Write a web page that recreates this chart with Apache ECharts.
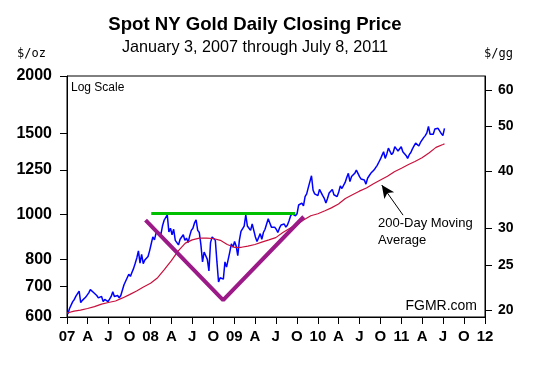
<!DOCTYPE html>
<html><head><meta charset="utf-8">
<script src="https://cdn.jsdelivr.net/npm/echarts@6/dist/echarts.min.js"></script>
<style>html,body{margin:0;padding:0;background:#fff}#c{width:544px;height:372px}</style>
</head><body><div id="c"></div>
<script>
// Weekly (Friday) closing prices, $/oz, starting Friday 2007-01-05
const firstFriday = [2007, 0, 5];
const goldPrices = [
  // 2007
  609, 626, 631, 648,
  655, 666, 664, 683,
  645, 652, 655, 662, 663,
  677, 688, 685, 678,
  684, 668, 660, 655,
  665, 648, 655, 655, 648,
  656, 665, 681, 665,
  670, 668, 660, 668, 672,
  705, 712, 730, 743,
  735, 750, 765, 785,
  806, 835, 785, 820, 783,
  798, 800, 812, 836,
  // 2008
  865, 895, 882, 912,
  905, 915, 905, 945, 972,
  975, 1000, 918, 935,
  905, 930, 880, 875,
  860, 885, 880, 905, 880,
  890, 870, 900, 925,
  935, 960, 975, 925,
  915, 860, 790, 830, 830,
  800, 755, 870, 895,
  900, 880, 790, 715, 730,
  735, 725, 790, 770,
  765, 830, 865, 850,
  // 2009
  875, 855, 815, 880, 920,
  915, 945, 1000, 945,
  935, 925, 955, 925,
  895, 875, 870, 910,
  885, 915, 930, 955, 980,
  960, 940, 935, 940,
  930, 915, 935, 950, 955,
  955, 940, 950, 970,
  995, 1005, 1015, 995,
  1005, 1050, 1055, 1060, 1045,
  1095, 1110, 1145, 1180,
  1215, 1130, 1110, 1105,
  // 2010
  1100, 1135, 1140, 1100, 1085,
  1060, 1085, 1115, 1120,
  1135, 1105, 1110, 1095,
  1120, 1155, 1140, 1145, 1175,
  1205, 1230, 1180, 1210,
  1215, 1230, 1250, 1255,
  1210, 1195, 1205, 1190, 1165,
  1200, 1215, 1230, 1235,
  1250, 1250, 1280, 1300,
  1320, 1345, 1370, 1325, 1355,
  1395, 1400, 1350, 1365,
  1405, 1390, 1375, 1385, 1405,
  // 2011
  1370, 1360, 1345, 1325,
  1350, 1365, 1390, 1410,
  1430, 1420, 1410, 1435,
  1430, 1470, 1485, 1505, 1555,
  1495, 1500, 1495, 1535,
  1540, 1540, 1535, 1500,
  1485, 1540
];
// 200-day moving average, read monthly (1st of each month) plus final day
const maDates = [];
for (let y = 2007; y <= 2011; y++) for (let m = 1; m <= 12; m++) {
  if (y === 2011 && m > 7) break;
  maDates.push(y + '-' + String(m).padStart(2, '0') + '-01');
}
maDates.push('2011-07-08');
const maValues = [
  612, 618, 621, 626, 632, 640, 645, 650, 660, 671, 683, 697,
  710, 730, 760, 795, 835, 868, 882, 890, 890, 888, 880, 862,
  850, 850, 855, 862, 872, 882, 892, 915, 935, 953, 975, 995,
  1005, 1020, 1035, 1055, 1085, 1105, 1125, 1143, 1168, 1190, 1212, 1240,
  1262, 1285, 1305, 1330, 1362, 1400, 1420, 1425
];
// Annotation lines (data space)
const resistanceLine = [['2008-01-04', 1006], ['2009-09-24', 1006]];
const vPattern = [['2007-12-10', 974], ['2008-11-13', 653], ['2009-10-31', 990]];
const arrowFrom = ['2011-01-08', 998];
const arrowTo = ['2010-10-07', 1160];

const leftTicks = [600, 700, 800, 1000, 1250, 1500, 2000];
const rightTicks = [20, 25, 30, 40, 50, 60];
const gramsPerOz = 31.1035;
const xTickLabels = ['07','A','J','O','08','A','J','O','09','A','J','O','10','A','J','O','11','A','J','O','12'];
const xTickValues = xTickLabels.map((_, i) => new Date(2007, 3 * i, 1).getTime());

const ts = s => { const p = s.split('-').map(Number); return new Date(p[0], p[1] - 1, p[2]).getTime(); };
const pt = a => [ts(a[0]), a[1]];
const goldDates = goldPrices.map((_, i) => new Date(firstFriday[0], firstFriday[1], firstFriday[2] + 7 * i).getTime());

const FONT = 'Arial, "Liberation Sans", sans-serif';
const MONO = '"DejaVu Sans Mono", "Liberation Mono", monospace';
const chart = echarts.init(document.getElementById('c'), null, {renderer: 'canvas'});
chart.setOption({
  animation: false,
  backgroundColor: '#fff',
  grid: {left: 67, right: 59, top: 76, bottom: 55, show: true, borderColor: '#000', borderWidth: 1, backgroundColor: 'transparent'},
  xAxis: {
    type: 'value', min: xTickValues[0], max: xTickValues[xTickValues.length - 1],
    axisLine: {show: true, onZero: false, lineStyle: {color: '#000', width: 1}},
    axisTick: {show: true, length: 7, customValues: xTickValues, lineStyle: {color: '#000'}},
    axisLabel: {
      customValues: xTickValues, margin: 12, fontSize: 15, fontWeight: 'bold', color: '#000', fontFamily: FONT,
      formatter: v => {
        const d = new Date(v);
        const idx = (d.getFullYear() - 2007) * 4 + Math.floor(d.getMonth() / 3);
        return xTickLabels[idx] || '';
      }
    },
    splitLine: {show: false}
  },
  yAxis: [{
    type: 'log', logBase: 10, min: 600, max: 2000, position: 'left',
    axisLine: {show: true, lineStyle: {color: '#000'}},
    axisTick: {show: true, length: 7, customValues: leftTicks, lineStyle: {color: '#000'}},
    axisLabel: {customValues: leftTicks, margin: 15, fontSize: 16, fontWeight: 'bold', color: '#000', fontFamily: FONT,
      formatter: v => String(Math.round(v))},
    splitLine: {show: false}
  }, {
    type: 'log', logBase: 10, min: 600 / gramsPerOz, max: 2000 / gramsPerOz, position: 'right',
    axisLine: {show: true, lineStyle: {color: '#000'}},
    axisTick: {show: true, length: 7, customValues: rightTicks, lineStyle: {color: '#000'}},
    axisLabel: {customValues: rightTicks, margin: 13, fontSize: 14, fontWeight: 'bold', color: '#000', fontFamily: FONT,
      formatter: v => String(Math.round(v))},
    splitLine: {show: false}
  }],
  series: [{
    type: 'line', name: 'Gold', showSymbol: false, symbol: 'none',
    data: goldDates.map((d, i) => [d, goldPrices[i]]),
    lineStyle: {color: '#0000ff', width: 1.5}, itemStyle: {color: '#0000ff'}
  }, {
    type: 'line', name: '200-Day MA', showSymbol: false, symbol: 'none',
    data: maDates.map((d, i) => [ts(d), maValues[i]]),
    lineStyle: {color: '#c8103c', width: 1.2}, itemStyle: {color: '#c8103c'},
    markLine: {
      silent: true, symbol: ['none', 'arrow'], symbolSize: [9, 13],
      label: {show: false},
      lineStyle: {color: '#000', width: 1, type: 'solid'},
      data: [[{coord: pt(arrowFrom)}, {coord: pt(arrowTo)}]]
    }
  }, {
    type: 'line', name: 'Resistance', showSymbol: false, symbol: 'none',
    data: resistanceLine.map(pt), lineStyle: {color: '#00c000', width: 3}
  }, {
    type: 'line', name: 'V', showSymbol: false, symbol: 'none',
    data: vPattern.map(pt), lineStyle: {color: '#9c1a88', width: 4}
  }],
  graphic: [
    {type: 'text', x: 255, y: 25, style: {text: 'Spot NY Gold Daily Closing Price', align: 'center', verticalAlign: 'middle', font: 'bold 18.6px ' + FONT, fill: '#000'}},
    {type: 'text', x: 255, y: 48, style: {text: 'January 3, 2007 through July 8, 2011', align: 'center', verticalAlign: 'middle', font: '16.2px ' + FONT, fill: '#000'}},
    {type: 'text', x: 17, y: 54, style: {text: '$/oz', verticalAlign: 'middle', font: '12px ' + MONO, fill: '#000'}},
    {type: 'text', x: 484, y: 54, style: {text: '$/gg', verticalAlign: 'middle', font: '12px ' + MONO, fill: '#000'}},
    {type: 'text', x: 71, y: 88, style: {text: 'Log Scale', verticalAlign: 'middle', font: '12px ' + FONT, fill: '#000'}},
    {type: 'text', x: 477, y: 306, style: {text: 'FGMR.com', align: 'right', verticalAlign: 'middle', font: '14px ' + FONT, fill: '#000'}},
    {type: 'text', x: 378, y: 223, style: {text: '200-Day Moving', verticalAlign: 'middle', font: '13px ' + FONT, fill: '#000'}},
    {type: 'text', x: 378, y: 240, style: {text: 'Average', verticalAlign: 'middle', font: '13px ' + FONT, fill: '#000'}}
  ]
});
</script></body></html>
